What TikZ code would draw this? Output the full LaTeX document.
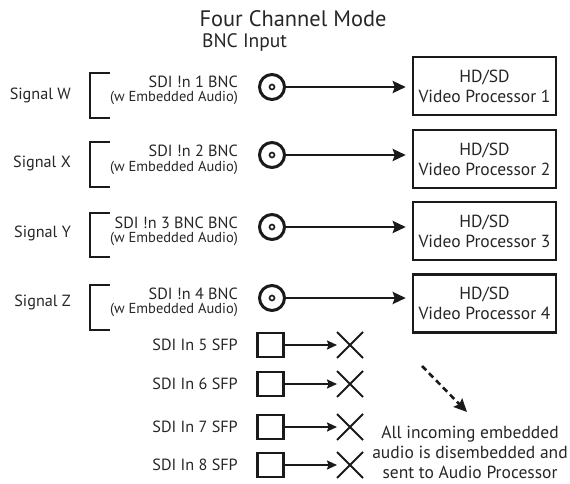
\documentclass[tikz,border=0pt]{standalone}
\usepackage{fontspec}
\setmainfont{PT Sans}
\usepackage{xcolor}
\usetikzlibrary{arrows.meta,shapes.misc}
\definecolor{txtgray}{HTML}{262626}
\definecolor{linegray}{HTML}{1A1A1A}
\newcommand{\fs}[2]{\fontsize{#1}{#2}\selectfont}
\newcommand{\embaudio}{{\fs{14.5}{14}(w Embedded Audio)}}

\begin{document}
\begin{tikzpicture}[x=1pt,y=-1pt,text=txtgray,
  lbl/.style={inner sep=0pt,font=\fs{16.2}{18}},
  inlbl/.style={inner sep=0pt,align=right,anchor=base east,font=\fs{16.2}{14}},
  bncjack/.style={circle,draw=linegray,line width=3pt,minimum size=25pt,inner sep=0pt},
  jackpin/.style={circle,draw=linegray,line width=1.6pt,minimum size=5pt,inner sep=0pt},
  procbox/.style={draw=linegray,line width=2.5pt,minimum width=143pt,minimum height=58pt,align=center,inner sep=0pt,font=\fs{17.5}{20}},
  sfpport/.style={draw=linegray,line width=2.8pt,minimum width=26pt,minimum height=24pt,inner sep=0pt},
  dropx/.style={cross out,draw=linegray,line width=2pt,minimum size=24pt,inner sep=0pt},
  feed/.style={draw=linegray,line width=2.6pt,-{Stealth[length=13pt,width=12pt,inset=2pt]}},
  thinfeed/.style={draw=linegray,line width=1.8pt,-{Stealth[length=10pt,width=9pt,inset=1.5pt]}},
  brk/.style={draw=linegray,line width=2.6pt}]
\useasboundingbox (0,0) rectangle (570,484);
\node (title) at (293,19) {\fs{22.4}{26}Four Channel Mode};
\node (bnc) [anchor=west,inner sep=0pt] at (202,43) {\fs{19.5}{22}BNC Input};
% BNC inputs
\node (sigw) [lbl,anchor=east] at (71,95) {Signal W};
\draw[brk] (110,73) -- (90,73) -- (90,118) -- (110,118);
\node (in1) [inlbl] at (238,102) {SDI !n 1 BNC\\\embaudio};
\node (j1) [bncjack] at (272,87) {}; \node (p1) [jackpin] at (j1) {};
\node (vp1) [procbox] at (484.5,86) {HD/SD\\Video Processor 1};
\draw[feed,shorten >=6pt] (j1) -- (j1 -| vp1.west);
\node (sigx) [lbl,anchor=east] at (71,163) {Signal X};
\draw[brk] (110,142) -- (90,142) -- (90,187) -- (110,187);
\node (in2) [inlbl] at (238,171) {SDI !n 2 BNC\\\embaudio};
\node (j2) [bncjack] at (272,155) {}; \node (p2) [jackpin] at (j2) {};
\node (vp2) [procbox] at (484.5,159) {HD/SD\\Video Processor 2};
\draw[feed,shorten >=6pt] (j2) -- (j2 -| vp2.west);
\node (sigy) [lbl,anchor=east] at (71,233) {Signal Y};
\draw[brk] (110,213) -- (90,213) -- (90,257) -- (110,257);
\node (in3) [inlbl] at (238,242) {SDI !n 3 BNC BNC\\\embaudio};
\node (j3) [bncjack] at (272,227) {}; \node (p3) [jackpin] at (j3) {};
\node (vp3) [procbox] at (484.5,231) {HD/SD\\Video Processor 3};
\draw[feed,shorten >=6pt] (j3) -- (j3 -| vp3.west);
\node (sigz) [lbl,anchor=east] at (71,302) {Signal Z};
\draw[brk] (110,285) -- (90,285) -- (90,330) -- (110,330);
\node (in4) [inlbl] at (238,313) {SDI !n 4 BNC\\\embaudio};
\node (j4) [bncjack] at (272,298) {}; \node (p4) [jackpin] at (j4) {};
\node (vp4) [procbox] at (484.5,303.5) {HD/SD\\Video Processor 4};
\draw[feed,shorten >=6pt] (j4) -- (j4 -| vp4.west);
% SFP inputs, not used
\node (in5) [lbl,anchor=east] at (238,345) {SDI In 5 SFP};
\node (s5) [sfpport] at (270.5,345) {}; \node (x5) [dropx] at (350,345) {};
\draw[thinfeed] (s5) -- (x5);
\node (in6) [lbl,anchor=east] at (238,384) {SDI In 6 SFP};
\node (s6) [sfpport] at (270.5,384) {}; \node (x6) [dropx] at (350,384) {};
\draw[thinfeed] (s6) -- (x6);
\node (in7) [lbl,anchor=east] at (238,427) {SDI In 7 SFP};
\node (s7) [sfpport] at (270.5,427) {}; \node (x7) [dropx] at (350,427) {};
\draw[thinfeed] (s7) -- (x7);
\node (in8) [lbl,anchor=east] at (238,465) {SDI In 8 SFP};
\node (s8) [sfpport] at (270.5,465) {}; \node (x8) [dropx] at (350,465) {};
\draw[thinfeed] (s8) -- (x8);
% audio note
\coordinate (dstart) at (422,366);
\coordinate (dtip) at (467,412);
\node (note) [align=center,inner sep=0pt,font=\fs{17.5}{20}] at (470,452) {All incoming embedded\\audio is disembedded and\\sent to Audio Processor};
\draw[feed,dash pattern=on 6pt off 4pt] (dstart) -- (dtip);
\end{tikzpicture}
\end{document}
